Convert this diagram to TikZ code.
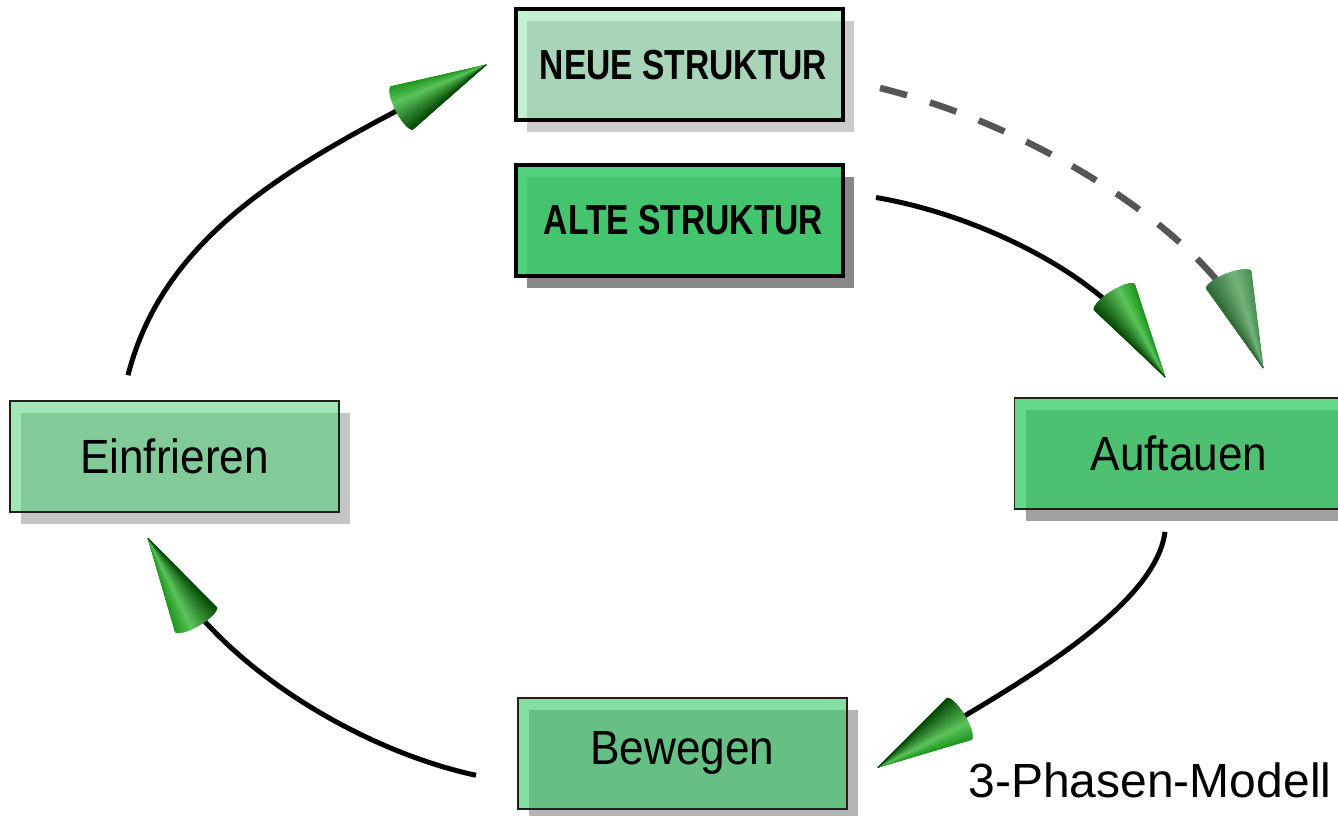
\documentclass[tikz,border=0pt]{standalone}
\usepackage{fontspec}
\setmainfont{Liberation Sans}
\usetikzlibrary{shadows,calc}

% box colours
\definecolor{neuefill}{HTML}{80DFA0}
\definecolor{altefill}{HTML}{3DCC6C}
\definecolor{einfill}{HTML}{41D171}
\definecolor{auffill}{HTML}{33CC63}
\definecolor{bewfill}{HTML}{32CA61}
\definecolor{neueshadow}{HTML}{CCCCCC}
\definecolor{alteshadow}{HTML}{888888}
\definecolor{einshadow}{HTML}{C4C4C4}
\definecolor{aufshadow}{HTML}{A0A0A0}
\definecolor{bewshadow}{HTML}{B4B4B4}
% cone colours
\definecolor{conedark}{HTML}{064A06}
\definecolor{conelight}{HTML}{5CC45C}
\definecolor{conemid}{HTML}{1E961E}
\definecolor{paledark}{HTML}{2F6A36}
\definecolor{palelight}{HTML}{74B47A}
\definecolor{palemid}{HTML}{4A9052}
\definecolor{dashgrey}{HTML}{555555}

% a shaded cone whose tip sits at the origin and points along +x
\newcommand\conetip[3]{%
  \foreach \k in {0,...,23}{%
    \pgfmathsetmacro\ta{90+7.5*\k}%
    \pgfmathsetmacro\tb{\ta+7.5}%
    \pgfmathsetmacro\sv{sin(\ta+3.75)}%
    \ifdim\sv pt>0.3pt
      \pgfmathtruncatemacro\pc{(\sv-0.3)/0.7*100}\def\cc{#3}%
    \else
      \pgfmathtruncatemacro\pc{(0.3-\sv)/1.3*100}\def\cc{#1}%
    \fi
    \path[solid,line width=0.6pt,draw={\cc!\pc!#2},fill={\cc!\pc!#2}]
      (0pt,0pt) -- ({-94pt+7pt*cos(\ta)},{24pt*sin(\ta)})
      -- ({-94pt+7pt*cos(\tb)},{24pt*sin(\tb)}) -- cycle;
  }%
}

\begin{document}
\begin{tikzpicture}[x=1pt,y=1pt,
  phase/.style={rectangle, minimum width=329pt, minimum height=111pt,
    inner sep=0pt, outer sep=0pt, text opacity=1,
    draw=black!88, line width=1.5pt, font=\fontsize{48}{48}\selectfont},
  struct/.style={phase, draw=black, line width=4pt, minimum width=327pt,
    font=\fontsize{42}{42}\selectfont\bfseries},
  boxshadow/.style={general shadow={fill=#1, fill opacity=1, draw=none,
    shadow xshift=11pt, shadow yshift=-12pt}},
  link/.style={line width=5pt, shorten >=40pt},
  dashlink/.style={draw=dashgrey, line width=6.5pt, dash pattern=on 28pt off 24pt,
    shorten >=40pt},
  pics/cone/.style={code={\conetip{conedark}{conelight}{conemid}}},
  pics/palecone/.style={code={\conetip{paledark}{palelight}{palemid}}},
]
\useasboundingbox (0,0) rectangle (1338,815);
\fill[white] (0,0) rectangle (1338,815);

% boxes
\node[struct, boxshadow=neueshadow, fill=neuefill, fill opacity=0.47]
  (neue) at (679.5,750) {\raisebox{-3pt}{\hspace{8pt}\scalebox{0.8}[1]{NEUE STRUKTUR}}};
\node[struct, boxshadow=alteshadow, fill=altefill, fill opacity=0.89]
  (alte) at (679.5,594.5) {\raisebox{-3pt}{\hspace{8pt}\scalebox{0.8}[1]{ALTE STRUKTUR}}};
\node[phase, boxshadow=einshadow, fill=einfill, fill opacity=0.5]
  (ein) at (174.5,358.3) {\scalebox{0.92}[1]{Einfrieren}};
\node[phase, boxshadow=aufshadow, fill=auffill, fill opacity=0.75]
  (auf) at (1179,361.6) {\scalebox{0.92}[1]{Auftauen}};
\node[phase, boxshadow=bewshadow, fill=bewfill, fill opacity=0.59]
  (bew) at (682.5,61.7) {\scalebox{0.92}[1]{Bewegen}};

\node[anchor=base west, font=\fontsize{48}{48}\selectfont]
  (title) at (965,18) {3-Phasen-Modell};

% connector ends
\coordinate (aS) at ($(ein.north)+(-46.5,26)$);
\coordinate (aE) at ($(neue.west)+(-30,0)$);
\coordinate (bS) at ($(alte.east)+(33,23)$);
\coordinate (bE) at ($(auf.north)+(-14,21)$);
\coordinate (cS) at ($(neue.east)+(37,-23)$);
\coordinate (cE) at ($(auf.north)+(84,30)$);
\coordinate (dS) at ($(auf.south)+(-14,-23)$);
\coordinate (dE) at ($(bew.east)+(31,-14)$);
\coordinate (eS) at ($(bew.west)+(-42,-22)$);
\coordinate (eE) at ($(ein.south)+(-26.5,-26)$);

% cycle
\draw[link] (aS) .. controls +(37,145) and +(-186,-95) .. (aE);
\draw[link] (bS) .. controls +(104,-17.5) and +(-64,101) .. (bE);
\draw[dashlink] (cS) .. controls +(170,-42) and +(-48,123) .. (cE);
\draw[link] (dS) .. controls +(-10,-78) and +(129,77) .. (dE);
\draw[link] (eS) .. controls +(-116,25) and +(76,-129) .. (eE);

% cone heads, turned along each curve's end direction
\pic[rotate=27.06] at (aE) {cone};
\pic[rotate=-57.6] at (bE) {cone};
\pic[rotate=-68.7] at (cE) {palecone};
\pic[rotate=210.8] at (dE) {cone};
\pic[rotate=120.5] at (eE) {cone};
\end{tikzpicture}
\end{document}
